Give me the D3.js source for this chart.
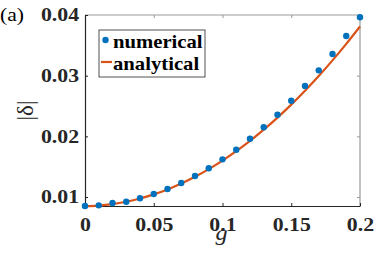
<!DOCTYPE html>
<html>
<head>
<meta charset="utf-8">
<script src="https://cdn.jsdelivr.net/npm/d3@7"></script>
<style>
  body { margin: 0; background: #fff; }
</style>
</head>
<body>
<svg id="chart" width="374" height="253"></svg>
<script>
// g values (shared by both series)
const gValues = [0, 0.01, 0.02, 0.03, 0.04, 0.05, 0.06, 0.07, 0.08, 0.09, 0.10,
  0.11, 0.12, 0.13, 0.14, 0.15, 0.16, 0.17, 0.18, 0.19, 0.20];

// numerical |delta| (dots)
const numerical = [0.00852, 0.00863, 0.00901, 0.00923, 0.00979, 0.01049, 0.01132,
  0.01231, 0.01346, 0.01473, 0.01621, 0.01780, 0.01961, 0.02149, 0.02357,
  0.02587, 0.02830, 0.03088, 0.03357, 0.03654, 0.03962];

// analytical |delta| (line)
const analytical = [0.00850, 0.00859, 0.00883, 0.00922, 0.00975, 0.01043, 0.01125,
  0.01222, 0.01333, 0.01459, 0.01600, 0.01755, 0.01925, 0.02110, 0.02309,
  0.02523, 0.02751, 0.02994, 0.03252, 0.03524, 0.03811];

const xTicks = [0, 0.05, 0.1, 0.15, 0.2];
const yTicks = [0.01, 0.02, 0.03, 0.04];
const legendLabels = ["numerical", "analytical"];

const svg = d3.select('#chart');
const margin = { top: 15, right: 14, bottom: 47, left: 85 };
const W = 374, H = 253;
const serif = '"Liberation Serif", "Times New Roman", serif';
const ink = '#262626';

const x = d3.scaleLinear().domain([0, 0.2]).range([margin.left, W - margin.right]);
const y = d3.scaleLinear().domain([0.00852, 0.04]).range([H - margin.bottom, margin.top]);

const blue = '#0072BD', orange = '#D95319';

// box (top/right lighter)
svg.append('line').attr('x1', x(0)).attr('x2', x(0.2)).attr('y1', y.range()[1]).attr('y2', y.range()[1])
  .attr('stroke', '#999').attr('stroke-width', 1.2);
svg.append('line').attr('x1', x(0.2)).attr('x2', x(0.2)).attr('y1', y.range()[0]).attr('y2', y.range()[1])
  .attr('stroke', '#999').attr('stroke-width', 1.2);

// bottom axis
const xAxis = svg.append('g')
  .attr('transform', `translate(0,${H - margin.bottom})`)
  .call(d3.axisBottom(x).tickValues(xTicks).tickSizeInner(-3).tickSizeOuter(0).tickPadding(12)
    .tickFormat(d => String(+d.toFixed(2))));
xAxis.select('.domain').attr('stroke', ink).attr('stroke-width', 1.2);
xAxis.selectAll('.tick line').attr('stroke', ink);
xAxis.selectAll('text')
  .style('font-family', serif).style('font-size', '18.5px').style('font-weight', 'bold')
  .attr('fill', ink).attr('transform', 'scale(1.18,1)');

// top ticks
svg.append('g').attr('transform', `translate(0,${margin.top})`)
  .call(d3.axisTop(x).tickValues(xTicks.slice(1, -1)).tickSizeInner(-3).tickSizeOuter(0).tickFormat(''))
  .call(g => g.select('.domain').remove())
  .selectAll('.tick line').attr('stroke', '#999');

// left axis
const yAxis = svg.append('g')
  .attr('transform', `translate(${margin.left},0)`)
  .call(d3.axisLeft(y).tickValues(yTicks).tickSizeInner(-3).tickSizeOuter(0).tickPadding(5)
    .tickFormat(d3.format('.2f')));
yAxis.select('.domain').attr('stroke', ink).attr('stroke-width', 1.2);
yAxis.selectAll('.tick line').attr('stroke', ink);
yAxis.selectAll('text')
  .style('font-family', serif).style('font-size', '18.5px').style('font-weight', 'bold')
  .attr('fill', ink).attr('transform', 'scale(1.18,1)');

// right ticks
svg.append('g').attr('transform', `translate(${W - margin.right},0)`)
  .call(d3.axisRight(y).tickValues(yTicks.slice(0, -1)).tickSizeInner(-3).tickSizeOuter(0).tickFormat(''))
  .call(g => g.select('.domain').remove())
  .selectAll('.tick line').attr('stroke', '#999');

// analytical line
const line = d3.line().x((d, i) => x(gValues[i])).y(d => y(d)).curve(d3.curveMonotoneX);
svg.append('path').datum(analytical)
  .attr('d', line).attr('fill', 'none').attr('stroke', orange).attr('stroke-width', 2.2);

// numerical dots
svg.selectAll('.dot').data(numerical).enter().append('circle')
  .attr('class', 'dot')
  .attr('cx', (d, i) => x(gValues[i])).attr('cy', d => y(d)).attr('r', 3.2)
  .attr('fill', blue);

// axis labels
svg.append('text').attr('transform', `translate(${x(0.1) - 1},240) scale(1.1,1)`).attr('text-anchor', 'middle')
  .style('font-family', serif).style('font-size', '22px').style('font-style', 'italic')
  .attr('fill', ink).text('g');
svg.append('text').attr('transform', `translate(33,${(y.range()[0] + y.range()[1]) / 2}) rotate(-90)`)
  .attr('text-anchor', 'middle')
  .style('font-family', serif).style('font-size', '23px')
  .attr('fill', ink).text('|δ|');
svg.append('text').attr('transform', 'translate(0,21) scale(1.2,1)')
  .style('font-family', serif).style('font-size', '18px')
  .attr('fill', '#000').text('(a)');

// legend
const legend = svg.append('g').attr('transform', 'translate(99,30)');
legend.append('rect').attr('width', 106).attr('height', 47)
  .attr('fill', '#fff').attr('stroke', ink).attr('stroke-width', 0.8);
legendLabels.forEach((label, i) => {
  const ly = 10 + i * 22;
  if (i === 0) {
    legend.append('circle').attr('cx', 6.5).attr('cy', ly).attr('r', 3.2).attr('fill', blue);
  } else {
    legend.append('line').attr('x1', 2).attr('x2', 13).attr('y1', ly).attr('y2', ly)
      .attr('stroke', orange).attr('stroke-width', 2.2);
  }
  legend.append('text').attr('transform', `translate(14,${ly + 8.3}) scale(1.15,1)`)
    .style('font-family', serif).style('font-size', '18px').style('font-weight', 'bold')
    .attr('fill', '#000').text(label);
});
</script>
</body>
</html>
